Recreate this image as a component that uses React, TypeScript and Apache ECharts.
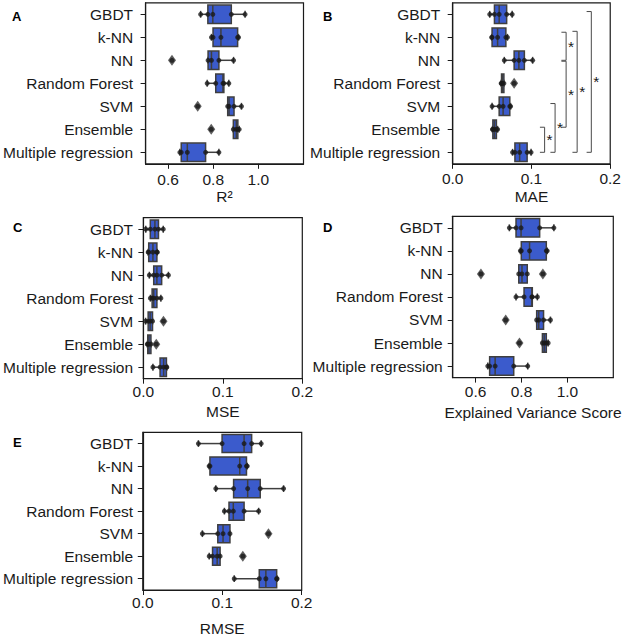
import React, { useEffect, useRef } from 'react';
import * as echarts from 'echarts';

const categories = ['GBDT', 'k-NN', 'NN', 'Random Forest', 'SVM', 'Ensemble', 'Multiple regression'];

// five cross-validation scores per model
const r2Values = [
  [0.744, 0.776, 0.798, 0.880, 0.941],
  [0.792, 0.799, 0.834, 0.908, 0.912],
  [0.617, 0.777, 0.792, 0.825, 0.890],
  [0.773, 0.811, 0.843, 0.847, 0.869],
  [0.731, 0.864, 0.870, 0.892, 0.925],
  [0.791, 0.889, 0.902, 0.909, 0.915],
  [0.652, 0.658, 0.685, 0.766, 0.825],
];
const maeValues = [
  [0.047, 0.053, 0.059, 0.0685, 0.0755],
  [0.0495, 0.050, 0.057, 0.0675, 0.0695],
  [0.0655, 0.078, 0.084, 0.091, 0.1015],
  [0.0615, 0.062, 0.063, 0.065, 0.078],
  [0.050, 0.059, 0.064, 0.0725, 0.0735],
  [0.0505, 0.051, 0.053, 0.0555, 0.057],
  [0.076, 0.079, 0.085, 0.0945, 0.0995],
];
const mseValues = [
  [0.003, 0.0087, 0.0145, 0.019, 0.025],
  [0.006, 0.0067, 0.012, 0.017, 0.0175],
  [0.0075, 0.013, 0.017, 0.023, 0.0315],
  [0.0088, 0.011, 0.013, 0.017, 0.022],
  [0.0028, 0.006, 0.0085, 0.0115, 0.0253],
  [0.005, 0.0055, 0.007, 0.0095, 0.0162],
  [0.012, 0.021, 0.0255, 0.029, 0.0295],
];
const evsValues = [
  [0.747, 0.776, 0.798, 0.879, 0.941],
  [0.795, 0.799, 0.835, 0.908, 0.912],
  [0.623, 0.788, 0.802, 0.825, 0.893],
  [0.776, 0.811, 0.845, 0.847, 0.869],
  [0.731, 0.866, 0.875, 0.896, 0.926],
  [0.791, 0.891, 0.899, 0.908, 0.916],
  [0.653, 0.661, 0.685, 0.766, 0.827],
];
const rmseValues = [
  [0.070, 0.0998, 0.1275, 0.137, 0.149],
  [0.0835, 0.0845, 0.122, 0.1305, 0.1315],
  [0.0919, 0.1143, 0.132, 0.1478, 0.1772],
  [0.1027, 0.1085, 0.1139, 0.1275, 0.1458],
  [0.075, 0.0944, 0.101, 0.1097, 0.1582],
  [0.0836, 0.0878, 0.0936, 0.0973, 0.1259],
  [0.1151, 0.1466, 0.1549, 0.1685, 0.169],
];

const ticksScore = [0.6, 0.8, 1.0];
const ticksError = [0.0, 0.1, 0.2];

// MAE significance brackets: x position, from row, to row (rows 0..6, GBDT top)
const bracketX = [0.1167, 0.130, 0.144, 0.144, 0.158, 0.176];
const bracketFrom = [4.91, 3.88, 2.04, 0.78, 0.74, -0.12];
const bracketTo = [6, 6, 4.91, 2, 6, 6];
const bracketMark = ['*', '*', '*', '*', '*', '*'];

const FONT = '"Liberation Sans", Arial, Helvetica, sans-serif';
const FS = 15.5;
const INK = '#1a1a1a';
const BOX_FILL = '#3b5bcc';
const BOX_EDGE = '#3f3f3f';

function boxStats(vals: number[]) {
  const s = [...vals].sort((a, b) => a - b);
  const q1 = s[1], med = s[2], q3 = s[3];
  const iqr = q3 - q1;
  const lo = q1 - 1.5 * iqr, hi = q3 + 1.5 * iqr;
  const inside = s.filter((v) => v >= lo && v <= hi);
  return {
    box: [Math.min(...inside), q1, med, q3, Math.max(...inside)],
    outliers: s.filter((v) => v < lo || v > hi),
  };
}

const panels = [
  { values: r2Values, min: 0.5, max: 1.2, ticks: ticksScore, name: 'R²', letter: 'A',
    grid: { left: 142.7, top: 2.8, width: 160.8, height: 161 }, xMargin: 8, nameGap: 25, yMargin: 12.5, lx: 12, ly: 10 },
  { values: maeValues, min: 0, max: 0.2, ticks: ticksError, name: 'MAE', letter: 'B',
    grid: { left: 452.7, top: 2.8, width: 160.3, height: 161 }, xMargin: 7, nameGap: 25, yMargin: 12.5, lx: 323, ly: 10 },
  { values: mseValues, min: 0, max: 0.2, ticks: ticksError, name: 'MSE', letter: 'C',
    grid: { left: 141.3, top: 217.7, width: 161, height: 161 }, xMargin: 5, nameGap: 25, yMargin: 10.3, lx: 13, ly: 221 },
  { values: evsValues, min: 0.5, max: 1.2, ticks: ticksScore, name: 'Explained Variance Score', letter: 'D',
    grid: { left: 452.7, top: 216.3, width: 160.6, height: 161.3 }, xMargin: 6, nameGap: 27, yMargin: 10, lx: 323, ly: 221 },
  { values: rmseValues, min: 0, max: 0.2, ticks: ticksError, name: 'RMSE', letter: 'E',
    grid: { left: 140.7, top: 432.3, width: 161, height: 161 }, xMargin: 4, nameGap: 30, yMargin: 9.7, lx: 13, ly: 436 },
];

function renderBox(params: any, api: any) {
  const cat = api.value(0);
  const vMin = api.value(1), q1 = api.value(2), med = api.value(3), q3 = api.value(4), vMax = api.value(5);
  const band = api.size([0, 1])[1];
  const h = band * 0.4;
  const cap = band * 0.15;
  const pMin = api.coord([vMin, cat]);
  const pQ1 = api.coord([q1, cat]);
  const pMed = api.coord([med, cat]);
  const pQ3 = api.coord([q3, cat]);
  const pMax = api.coord([vMax, cat]);
  const y = pQ1[1];
  const lineStyle = { stroke: BOX_EDGE, lineWidth: 1.5 };
  return {
    type: 'group',
    children: [
      { type: 'line', shape: { x1: pMin[0], y1: y, x2: pQ1[0], y2: y }, style: lineStyle },
      { type: 'line', shape: { x1: pQ3[0], y1: y, x2: pMax[0], y2: y }, style: lineStyle },
      { type: 'line', shape: { x1: pMin[0], y1: y - cap, x2: pMin[0], y2: y + cap }, style: lineStyle },
      { type: 'line', shape: { x1: pMax[0], y1: y - cap, x2: pMax[0], y2: y + cap }, style: lineStyle },
      { type: 'rect', shape: { x: pQ1[0], y: y - h, width: pQ3[0] - pQ1[0], height: 2 * h },
        style: { fill: BOX_FILL, stroke: BOX_EDGE, lineWidth: 1.5 } },
      { type: 'line', shape: { x1: pMed[0], y1: y - h, x2: pMed[0], y2: y + h }, style: lineStyle },
    ],
  };
}

function renderBracket(params: any, api: any) {
  const x = api.value(0), y1 = api.value(1), y2 = api.value(2);
  const a = api.coord([x, y1]);
  const b = api.coord([x, y2]);
  const tick = 4.7;
  return {
    type: 'group',
    children: [
      { type: 'polyline', shape: { points: [[a[0] - tick, a[1]], [a[0], a[1]], [b[0], b[1]], [b[0] - tick, b[1]]] },
        style: { stroke: '#4a4a4a', lineWidth: 1, fill: 'none' } },
      { type: 'text', x: a[0] + 5, y: (a[1] + b[1]) / 2,
        style: { text: bracketMark[params.dataIndex], fill: INK, font: `${FS}px ${FONT}`, align: 'center', verticalAlign: 'middle' } },
    ],
  };
}

export default function App() {
  const ref = useRef<HTMLDivElement>(null);
  useEffect(() => {
    if (!ref.current) return;
    const chart = echarts.init(ref.current, undefined, { renderer: 'svg' });
    const grid: any[] = [];
    const xAxis: any[] = [];
    const yAxis: any[] = [];
    const series: any[] = [];
    const graphic: any[] = [];
    panels.forEach((p, i) => {
      grid.push({ ...p.grid, show: true, borderColor: INK, borderWidth: 1.2, containLabel: false });
      xAxis.push({
        type: 'value', gridIndex: i, min: p.min, max: p.max,
        axisLine: { show: true, onZero: false, lineStyle: { color: INK, width: 1.2 } },
        splitLine: { show: false },
        axisTick: { show: true, length: 5, lineStyle: { color: INK, width: 1 }, customValues: p.ticks },
        axisLabel: { customValues: p.ticks, formatter: (v: number) => v.toFixed(1), fontSize: FS, color: INK, fontFamily: FONT, margin: p.xMargin },
        name: p.name, nameLocation: 'middle', nameGap: p.nameGap,
        nameTextStyle: { fontSize: FS, color: INK, fontFamily: FONT },
      });
      yAxis.push({
        type: 'category', gridIndex: i, data: categories, inverse: true,
        axisLine: { show: true, lineStyle: { color: INK, width: 1.2 } },
        axisTick: { show: true, alignWithLabel: true, length: 5, lineStyle: { color: INK, width: 1 } },
        axisLabel: { fontSize: FS, color: INK, fontFamily: FONT, margin: p.yMargin },
        splitLine: { show: false },
      });
      const stats = p.values.map((v) => boxStats(v));
      series.push({
        type: 'custom', xAxisIndex: i, yAxisIndex: i, renderItem: renderBox,
        encode: { x: [1, 2, 3, 4, 5], y: 0 },
        data: stats.map((s, c) => [c, ...s.box]), z: 2,
      });
      const outliers: number[][] = [];
      stats.forEach((s, c) => s.outliers.forEach((v) => outliers.push([v, c])));
      series.push({
        type: 'scatter', xAxisIndex: i, yAxisIndex: i, symbol: 'diamond', symbolSize: [8, 11],
        itemStyle: { color: '#363636' }, data: outliers, z: 3,
      });
      const pts: number[][] = [];
      p.values.forEach((vals, c) => vals.forEach((v) => pts.push([v, c])));
      series.push({
        type: 'scatter', xAxisIndex: i, yAxisIndex: i, symbol: 'circle', symbolSize: 5,
        itemStyle: { color: '#1a1a1a' }, data: pts, z: 4,
      });
      graphic.push({ type: 'text', left: p.lx, top: p.ly,
        style: { text: p.letter, font: `bold 13px ${FONT}`, fill: '#000' } });
    });
    // hidden value axis over panel B for the significance brackets
    yAxis.push({ type: 'value', gridIndex: 1, min: -0.5, max: 6.5, inverse: true, show: false });
    series.push({
      type: 'custom', xAxisIndex: 1, yAxisIndex: 5, renderItem: renderBracket,
      encode: { x: 0, y: [1, 2] }, clip: false,
      data: bracketX.map((x, k) => [x, bracketFrom[k], bracketTo[k]]), z: 5,
    });
    chart.setOption({ animation: false, grid, xAxis, yAxis, series, graphic });
    return () => chart.dispose();
  }, []);
  return <div ref={ref} style={{ position: 'fixed', left: 0, top: 0, width: 624, height: 637, background: '#fff' }} />;
}
